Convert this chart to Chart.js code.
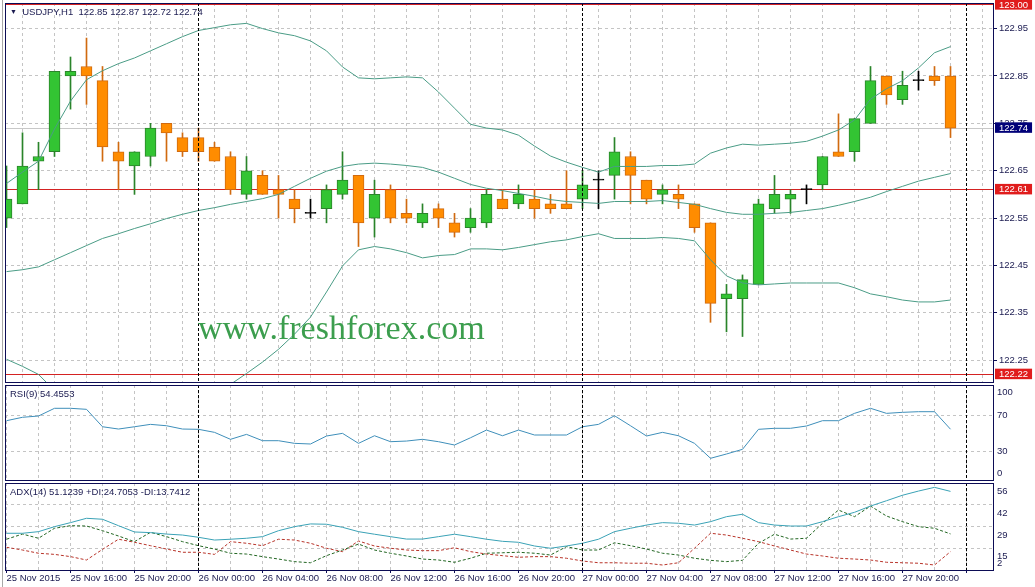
<!DOCTYPE html>
<html>
<head>
<meta charset="utf-8">
<script src="https://cdn.jsdelivr.net/npm/chart.js@4.4.0/dist/chart.umd.min.js"></script>
<style>
  html, body { margin: 0; padding: 0; background: #fff; }
  #wrap { position: relative; width: 1035px; height: 587px; overflow: hidden; font-family: "Liberation Sans", Arial, sans-serif; }
  #wrap canvas { position: absolute; left: 0; }
  .edge { position: absolute; left: 2px; top: 0; width: 1px; height: 587px; background: #a8a8a8; }
  .label { position: absolute; left: 10px; font-size: 9.5px; line-height: 11px; color: #1a1a50; white-space: pre; }
  .tri { font-size: 7px; vertical-align: 1px; }
  #watermark { position: absolute; left: 198px; top: 311px; font-family: "Liberation Serif", "Times New Roman", serif; font-size: 34px; line-height: 34px; color: #3c9e4e; white-space: nowrap; }
</style>
</head>
<body>
<div id="wrap">
  <canvas id="priceChart" width="1035" height="383" style="top:0;width:1035px;height:383px"></canvas>
  <canvas id="rsiChart" width="1035" height="98" style="top:383px;width:1035px;height:98px"></canvas>
  <canvas id="adxChart" width="1035" height="106" style="top:481px;width:1035px;height:106px"></canvas>
  <div class="edge"></div>
  <div id="watermark">www.freshforex.com</div>
  <div class="label" style="top:6px"><span class="tri">&#9660;</span>  USDJPY,H1  122.85 122.87 122.72 122.74</div>
  <div class="label" style="top:388px">RSI(9) 54.4553</div>
  <div class="label" style="top:486px">ADX(14) 51.1239 +DI:24.7053 -DI:13.7412</div>
</div>
<script>
// USDJPY H1, 25 Nov 12:00 .. 27 Nov 23:00
const opens = [122.55, 122.58, 122.67, 122.69, 122.85, 122.87, 122.84, 122.69, 122.66, 122.68,
  122.75, 122.72, 122.72, 122.70, 122.68, 122.60, 122.64, 122.61, 122.59, 122.56,
  122.57, 122.60, 122.64, 122.55, 122.61, 122.56, 122.54, 122.57, 122.54, 122.53,
  122.54, 122.59, 122.58, 122.59, 122.58, 122.58, 122.59, 122.63, 122.64, 122.68,
  122.63, 122.60, 122.60, 122.58, 122.54, 122.38, 122.38, 122.41, 122.57, 122.59,
  122.61, 122.62, 122.69, 122.69, 122.75, 122.85, 122.80, 122.84, 122.85, 122.85];
const highs = [122.66, 122.73, 122.71, 122.86, 122.89, 122.93, 122.87, 122.71, 122.69, 122.75,
  122.75, 122.73, 122.74, 122.71, 122.69, 122.68, 122.65, 122.64, 122.61, 122.59,
  122.62, 122.69, 122.64, 122.63, 122.62, 122.59, 122.58, 122.58, 122.56, 122.57,
  122.61, 122.61, 122.62, 122.61, 122.60, 122.65, 122.65, 122.65, 122.72, 122.69,
  122.63, 122.62, 122.62, 122.58, 122.54, 122.41, 122.43, 122.59, 122.64, 122.61,
  122.62, 122.68, 122.77, 122.76, 122.87, 122.85, 122.86, 122.86, 122.87, 122.87];
const lows = [122.53, 122.58, 122.61, 122.68, 122.78, 122.79, 122.67, 122.61, 122.60, 122.66,
  122.67, 122.68, 122.67, 122.67, 122.60, 122.59, 122.60, 122.55, 122.54, 122.55,
  122.54, 122.59, 122.49, 122.51, 122.54, 122.54, 122.53, 122.53, 122.51, 122.52,
  122.53, 122.57, 122.57, 122.55, 122.56, 122.57, 122.57, 122.57, 122.59, 122.58,
  122.58, 122.58, 122.57, 122.52, 122.33, 122.31, 122.30, 122.41, 122.56, 122.56,
  122.58, 122.61, 122.68, 122.67, 122.75, 122.79, 122.79, 122.82, 122.83, 122.72];
const closes = [122.59, 122.66, 122.68, 122.86, 122.86, 122.85, 122.70, 122.67, 122.69, 122.74,
  122.73, 122.69, 122.69, 122.67, 122.61, 122.65, 122.60, 122.60, 122.57, 122.56,
  122.61, 122.63, 122.54, 122.60, 122.55, 122.55, 122.56, 122.55, 122.52, 122.55,
  122.60, 122.57, 122.60, 122.57, 122.57, 122.57, 122.62, 122.63, 122.69, 122.64,
  122.59, 122.61, 122.59, 122.53, 122.37, 122.39, 122.42, 122.58, 122.60, 122.60,
  122.61, 122.68, 122.68, 122.76, 122.84, 122.81, 122.83, 122.84, 122.84, 122.74];

// bollinger bands
const bbUpper = [122.623, 122.647, 122.670, 122.738, 122.797, 122.842, 122.861, 122.876, 122.888, 122.903,
  122.918, 122.933, 122.946, 122.952, 122.958, 122.961, 122.950, 122.941, 122.935, 122.924,
  122.903, 122.869, 122.846, 122.844, 122.846, 122.848, 122.846, 122.816, 122.782, 122.748,
  122.740, 122.736, 122.725, 122.702, 122.681, 122.668, 122.657, 122.647, 122.659, 122.659,
  122.659, 122.661, 122.661, 122.664, 122.687, 122.698, 122.706, 122.704, 122.706, 122.708,
  122.712, 122.723, 122.736, 122.757, 122.801, 122.823, 122.840, 122.867, 122.899, 122.912];
const bbMiddle = [122.437, 122.441, 122.447, 122.462, 122.477, 122.492, 122.507, 122.517, 122.528, 122.538,
  122.549, 122.558, 122.566, 122.572, 122.579, 122.585, 122.591, 122.600, 122.617, 122.634,
  122.649, 122.659, 122.664, 122.666, 122.664, 122.661, 122.657, 122.647, 122.634, 122.621,
  122.613, 122.608, 122.602, 122.596, 122.589, 122.585, 122.583, 122.581, 122.585, 122.585,
  122.585, 122.587, 122.583, 122.579, 122.570, 122.562, 122.558, 122.558, 122.560, 122.562,
  122.566, 122.570, 122.577, 122.585, 122.594, 122.606, 122.617, 122.628, 122.636, 122.644];
const bbLower = [122.252, 122.237, 122.220, 122.186, 122.157, 122.142, 122.152, 122.159, 122.167, 122.174,
  122.180, 122.182, 122.186, 122.193, 122.199, 122.222, 122.246, 122.273, 122.305, 122.341,
  122.394, 122.449, 122.483, 122.490, 122.485, 122.477, 122.466, 122.471, 122.473, 122.485,
  122.485, 122.483, 122.488, 122.494, 122.500, 122.504, 122.511, 122.517, 122.507, 122.507,
  122.507, 122.509, 122.507, 122.502, 122.462, 122.428, 122.413, 122.409, 122.411, 122.413,
  122.413, 122.413, 122.413, 122.403, 122.390, 122.384, 122.377, 122.373, 122.373, 122.377];

const rsi = [63.8, 67.5, 68.9, 77.3, 77.3, 76.2, 57.2, 54.7, 57.2, 59.8,
  58.3, 54.7, 54.4, 51.1, 43.5, 48.9, 42.0, 42.0, 39.1, 38.4,
  47.1, 50.0, 39.1, 47.4, 40.9, 41.6, 43.5, 40.9, 37.3, 45.2,
  53.6, 47.4, 53.6, 48.2, 48.2, 48.2, 57.2, 59.8, 69.2, 58.3,
  47.1, 51.1, 47.4, 39.1, 22.8, 27.5, 32.6, 54.4, 55.5, 55.5,
  58.0, 63.8, 63.8, 71.8, 77.3, 71.8, 72.9, 73.6, 73.6, 54.5];

const adx = [25.1, 25.1, 26.1, 29.2, 31.7, 34.4, 33.8, 29.8, 25.9, 25.5,
  24.6, 24.0, 22.6, 20.9, 21.4, 22.0, 23.0, 26.7, 29.2, 30.9,
  30.7, 28.8, 26.1, 24.5, 23.0, 21.5, 21.5, 23.0, 24.5, 23.0,
  21.4, 20.1, 19.5, 17.2, 15.8, 17.2, 18.9, 21.4, 26.1, 28.2,
  30.2, 31.7, 31.3, 30.2, 32.3, 35.4, 36.9, 31.7, 30.2, 29.6,
  29.6, 32.3, 35.4, 38.1, 42.0, 45.3, 48.7, 51.3, 53.6, 51.1];
const plusDI = [21.4, 24.6, 22.0, 28.2, 29.8, 29.6, 26.7, 23.4, 19.9, 25.7,
  23.0, 19.9, 17.4, 15.3, 12.7, 12.2, 10.6, 9.1, 7.5, 6.8,
  11.2, 14.7, 18.4, 14.7, 12.7, 11.0, 9.1, 8.5, 7.1, 9.6,
  12.7, 13.0, 13.3, 12.7, 11.6, 16.8, 14.7, 14.7, 19.2, 17.4,
  15.3, 12.7, 11.6, 9.6, 8.3, 7.5, 8.3, 18.9, 24.5, 21.5,
  22.0, 31.3, 39.5, 35.4, 42.0, 35.8, 32.3, 29.2, 28.2, 24.7];
const minusDI = [16.4, 14.7, 12.7, 12.0, 10.6, 8.5, 15.1, 21.4, 19.5, 17.4,
  15.3, 13.3, 13.3, 12.0, 19.9, 18.9, 17.4, 21.4, 20.9, 18.9,
  15.8, 13.7, 20.3, 17.2, 15.8, 14.7, 14.3, 14.3, 16.1, 13.7,
  12.2, 11.2, 10.2, 10.6, 10.6, 9.6, 7.9, 6.8, 6.8, 6.5,
  6.5, 5.4, 6.8, 15.8, 25.1, 24.0, 22.0, 19.9, 17.2, 14.7,
  12.2, 11.0, 9.6, 9.1, 8.5, 7.1, 6.8, 6.5, 5.4, 13.7];

// axis labels, one every 4 bars
const timeLabels = ["25 Nov 2015", "25 Nov 16:00", "25 Nov 20:00", "26 Nov 00:00", "26 Nov 04:00",
  "26 Nov 08:00", "26 Nov 12:00", "26 Nov 16:00", "26 Nov 20:00", "27 Nov 00:00", "27 Nov 04:00",
  "27 Nov 08:00", "27 Nov 12:00", "27 Nov 16:00", "27 Nov 20:00"];
const priceTicks = [122.25, 122.35, 122.45, 122.55, 122.65, 122.75, 122.85, 122.95];
const redLevels = [123.00, 122.61, 122.22];
const bidPrice = 122.74;
const daySeparators = [12, 36, 60];
const rsiTicks = [0, 30, 70, 100];
const rsiLevels = [30, 70];
const adxLevels = [2.3, 15.8, 29.3, 42.8, 56.3];

// look
const textColor = "#1a1a50";
const frameColor = "#0c0c55";
const gridColor = "#c4c4c4";
const levelRed = "#d42222";
const bidGray = "#c8c8c8";
const upFill = "#33c433", upEdge = "#2a842a";
const downFill = "#ff8c00", downEdge = "#d06a10";
const bandColor = "#4a9c86";
const font = { family: "Liberation Sans", size: 9.5, lineHeight: 1 };

const xMin = -1.5 / 16;
const xMax = xMin + 988 / 16;
const gridIdx = [];
for (let i = 0; i <= 60; i += 2) gridIdx.push(i);
const idx = closes.map((c, i) => i);

Chart.defaults.font.family = "Liberation Sans";
Chart.defaults.font.size = 9.5;
Chart.defaults.color = textColor;

const panelFrame = {
  id: "panelFrame",
  afterDatasetsDraw(chart) {
    const { ctx, chartArea: a, scales } = chart;
    ctx.save();
    ctx.lineWidth = 1;
    ctx.strokeStyle = "#000";
    ctx.setLineDash([3, 2]);
    daySeparators.forEach((i) => {
      const px = Math.floor(scales.x.getPixelForValue(i)) + 0.5;
      ctx.beginPath();
      ctx.moveTo(px, a.top);
      ctx.lineTo(px, a.bottom);
      ctx.stroke();
    });
    ctx.setLineDash([]);
    ctx.strokeStyle = frameColor;
    ctx.strokeRect(a.left + 0.5, a.top + 0.5, a.right - a.left, a.bottom - a.top);
    ctx.restore();
  },
};

// horizontal price levels (red lines and the bid line) behind the candles
const priceLevels = {
  id: "priceLevels",
  beforeDatasetsDraw(chart) {
    const { ctx, chartArea: a, scales } = chart;
    const lines = [[bidPrice, bidGray]].concat(redLevels.map((v) => [v, levelRed]));
    ctx.save();
    ctx.lineWidth = 1;
    lines.forEach(([v, color]) => {
      const py = Math.floor(scales.y.getPixelForValue(v)) + 0.5;
      ctx.strokeStyle = color;
      ctx.beginPath();
      ctx.moveTo(a.left, py);
      ctx.lineTo(a.right, py);
      ctx.stroke();
    });
    ctx.restore();
  },
};

// no extra room for edge labels, panels are laid out by hand
function noPad(s) {
  s.paddingTop = 0;
  s.paddingBottom = 0;
  s.paddingLeft = 0;
  s.paddingRight = 0;
}

function xAxis(withLabels) {
  return {
    type: "linear",
    min: xMin,
    max: xMax,
    offset: false,
    afterBuildTicks: (s) => {
      s.ticks = gridIdx.map((v) => ({ value: v }));
    },
    afterFit: (s) => {
      s.height = withLabels ? 17 : 0;
      noPad(s);
    },
    grid: {
      color: gridColor,
      drawTicks: withLabels,
      tickLength: 3,
      tickBorderDash: [],
      tickColor: (c) => (c.tick && c.tick.value % 4 === 0 ? frameColor : "transparent"),
    },
    border: { display: false, dash: [3, 3] },
    ticks: {
      display: withLabels,
      autoSkip: false,
      maxRotation: 0,
      minRotation: 0,
      align: "start",
      padding: 1,
      color: textColor,
      font: font,
      callback: (v) => (v % 4 === 0 ? timeLabels[v / 4] || "" : ""),
    },
  };
}

const baseOptions = {
  responsive: false,
  animation: false,
  devicePixelRatio: 1,
  events: [],
  plugins: { legend: { display: false }, tooltip: { enabled: false } },
};

const kindOf = (c) => (c.tick ? c.tick.kind : "grid");

new Chart(document.getElementById("priceChart"), {
  type: "bar",
  data: {
    datasets: [
      { type: "line", label: "BB upper", data: idx.map((i) => ({ x: i, y: bbUpper[i] })), borderColor: bandColor, borderWidth: 1, pointRadius: 0, order: 0 },
      { type: "line", label: "BB middle", data: idx.map((i) => ({ x: i, y: bbMiddle[i] })), borderColor: bandColor, borderWidth: 1, pointRadius: 0, order: 0 },
      { type: "line", label: "BB lower", data: idx.map((i) => ({ x: i, y: bbLower[i] })), borderColor: bandColor, borderWidth: 1, pointRadius: 0, order: 0 },
      {
        label: "body",
        data: idx.map((i) => ({ x: i, y: [opens[i], closes[i]] })),
        backgroundColor: idx.map((i) => (closes[i] > opens[i] ? upFill : closes[i] < opens[i] ? downFill : "#000")),
        borderColor: idx.map((i) => (closes[i] > opens[i] ? upEdge : closes[i] < opens[i] ? downEdge : "#000")),
        borderWidth: 1,
        borderSkipped: false,
        barThickness: 11,
        minBarLength: 1,
        grouped: false,
        order: 1,
      },
      {
        label: "wick",
        data: idx.map((i) => ({ x: i, y: [lows[i], highs[i]] })),
        backgroundColor: idx.map((i) => (closes[i] > opens[i] ? upEdge : closes[i] < opens[i] ? downEdge : "#000")),
        borderWidth: 0,
        barThickness: 1,
        grouped: false,
        order: 2,
      },
    ],
  },
  options: {
    ...baseOptions,
    layout: { padding: { left: 5, top: 3, right: 0, bottom: 1 } },
    scales: {
      x: xAxis(false),
      y: {
        position: "right",
        min: 122.204,
        max: 123.004,
        afterBuildTicks: (s) => {
          s.ticks = priceTicks
            .map((v) => ({ value: v, kind: "grid" }))
            .concat([{ value: bidPrice, kind: "bid" }])
            .concat(redLevels.map((v) => ({ value: v, kind: "red" })));
        },
        afterFit: (s) => {
          s.width = 42;
          noPad(s);
        },
        grid: {
          color: (c) => (kindOf(c) === "grid" ? gridColor : "transparent"),
          tickLength: 4,
          tickBorderDash: [],
          tickColor: (c) => (kindOf(c) === "grid" ? frameColor : "transparent"),
        },
        border: { display: false, dash: [3, 3] },
        ticks: {
          autoSkip: false,
          padding: 2,
          font: font,
          color: (c) => (kindOf(c) === "grid" ? textColor : "#fff"),
          showLabelBackdrop: (c) => kindOf(c) !== "grid",
          backdropColor: (c) => (kindOf(c) === "red" ? "#e01c1c" : "#000078"),
          backdropPadding: { left: 4, right: 4, top: 1, bottom: 0 },
          callback: (v) => v.toFixed(2),
        },
      },
    },
  },
  plugins: [priceLevels, panelFrame],
});

new Chart(document.getElementById("rsiChart"), {
  type: "line",
  data: {
    datasets: [
      { label: "RSI(9)", data: idx.map((i) => ({ x: i, y: rsi[i] })), borderColor: "#3f8fba", borderWidth: 1, pointRadius: 0 },
    ],
  },
  options: {
    ...baseOptions,
    layout: { padding: { left: 5, top: 2, right: 0, bottom: 1 } },
    scales: {
      x: xAxis(false),
      y: {
        position: "right",
        min: -0.84,
        max: 102.7,
        afterBuildTicks: (s) => {
          s.ticks = rsiTicks.map((v) => ({
            value: Math.min(Math.max(v, -0.84 + 7), 102.7 - 7.5),
            text: String(v),
            level: rsiLevels.includes(v),
          }));
        },
        afterFit: (s) => {
          s.width = 42;
          noPad(s);
        },
        grid: { color: (c) => (c.tick && c.tick.level ? gridColor : "transparent"), drawTicks: false },
        border: { display: false, dash: [3, 3] },
        ticks: { autoSkip: false, padding: 4, font: font, color: textColor, callback: (v, i, t) => t[i].text },
      },
    },
  },
  plugins: [panelFrame],
});

new Chart(document.getElementById("adxChart"), {
  type: "line",
  data: {
    datasets: [
      { label: "ADX", data: idx.map((i) => ({ x: i, y: adx[i] })), borderColor: "#3aa2b6", borderWidth: 1, pointRadius: 0, yAxisID: "y" },
      { label: "+DI", data: idx.map((i) => ({ x: i, y: plusDI[i] })), borderColor: "#226622", borderWidth: 1, borderDash: [3, 2], pointRadius: 0, yAxisID: "y" },
      { label: "-DI", data: idx.map((i) => ({ x: i, y: minusDI[i] })), borderColor: "#b8342a", borderWidth: 1, borderDash: [3, 2], pointRadius: 0, yAxisID: "y" },
    ],
  },
  options: {
    ...baseOptions,
    layout: { padding: { left: 5, top: 2, right: 0, bottom: 0 } },
    scales: {
      x: xAxis(true),
      y: {
        position: "right",
        min: 2.3,
        max: 56.3,
        afterBuildTicks: (s) => {
          s.ticks = adxLevels.map((v) => ({ value: Math.max(v - 5.3, 2.3 + 4.2), text: String(Math.floor(v)) }));
        },
        afterFit: (s) => {
          s.width = 42;
          noPad(s);
        },
        grid: { drawOnChartArea: false, drawTicks: false },
        border: { display: false },
        ticks: { autoSkip: false, padding: 4, font: font, color: textColor, callback: (v, i, t) => t[i].text },
      },
      yGrid: {
        position: "right",
        min: 2.3,
        max: 56.3,
        afterBuildTicks: (s) => {
          s.ticks = adxLevels.slice(1, -1).map((v) => ({ value: v }));
        },
        afterFit: (s) => {
          s.width = 0;
          noPad(s);
        },
        grid: { color: gridColor, drawTicks: false },
        border: { display: false, dash: [3, 3] },
        ticks: { display: false },
      },
    },
  },
  plugins: [panelFrame],
});
</script>
</body>
</html>
